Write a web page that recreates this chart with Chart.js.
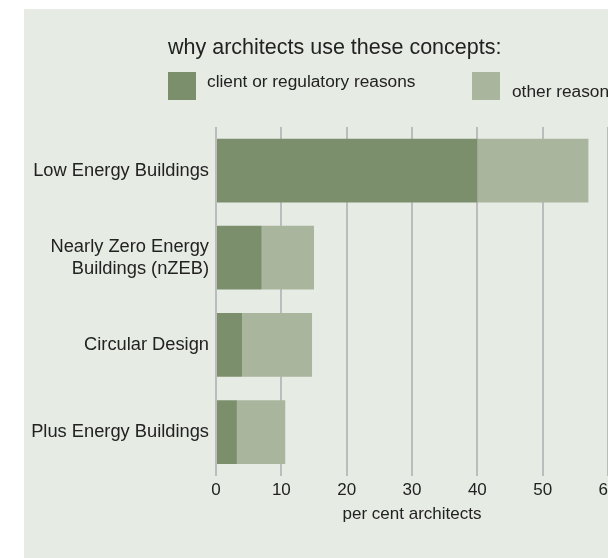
<!DOCTYPE html>
<html>
<head>
<meta charset="utf-8">
<script src="https://cdn.jsdelivr.net/npm/chart.js@4/dist/chart.umd.min.js"></script>
<style>
  html, body { margin: 0; padding: 0; overflow: hidden; background: #fff; }
  #wrap { position: absolute; left: 0; top: 0; width: 640px; height: 558px; }
</style>
</head>
<body>
<div id="wrap"><canvas id="chartId" width="640" height="558"></canvas></div>
<script>
// data
const concepts = ['Low Energy Buildings', ['Nearly Zero Energy', 'Buildings (nZEB)'], 'Circular Design', 'Plus Energy Buildings'];
const clientReasons = [40, 7, 4, 3.2];
const otherReasons = [17, 8, 10.7, 7.4];
const xTicks = [0, 10, 20, 30, 40, 50, 60];

const titleText = 'why architects use these concepts:';
const axisTitle = 'per cent architects';

const darkGreen = '#7b8f6d';
const lightGreen = '#aab59e';
const panel = '#e6ebe4';
const ink = '#222222';
const fontName = '"Liberation Sans", Arial, sans-serif';

// panel background, title and the legend squares
const decor = {
  id: 'decor',
  beforeDraw(chart) {
    const c = chart.ctx;
    c.save();
    c.fillStyle = panel;
    c.fillRect(24, 9, chart.width - 24, chart.height - 9);

    c.fillStyle = ink;
    c.textBaseline = 'middle';
    c.textAlign = 'left';
    c.font = '21.5px ' + fontName;
    c.fillText(titleText, 168, 48);

    const ds = chart.data.datasets;
    c.font = '17.3px ' + fontName;
    c.fillStyle = ds[0].backgroundColor;
    c.fillRect(168, 72, 28, 28);
    c.fillStyle = ink;
    c.fillText(ds[0].label, 207, 82);

    c.fillStyle = ds[1].backgroundColor;
    c.fillRect(472, 72, 28, 28);
    c.fillStyle = ink;
    c.fillText(ds[1].label, 512, 92);
    c.restore();
  }
};

const ctx = document.getElementById('chartId').getContext('2d');
const newChart = new Chart(ctx, {
  type: 'bar',
  data: {
    labels: concepts,
    datasets: [{
      label: 'client or regulatory reasons',
      backgroundColor: darkGreen,
      data: clientReasons
    }, {
      label: 'other reasons',
      backgroundColor: lightGreen,
      data: otherReasons
    }]
  },
  options: {
    responsive: false,
    animation: false,
    indexAxis: 'y',
    layout: { padding: { left: 0, right: 32, top: 127, bottom: 35 } },
    categoryPercentage: 0.8,
    barPercentage: 0.915,
    plugins: {
      legend: { display: false },
      title: { display: false },
      tooltip: { enabled: false }
    },
    scales: {
      x: {
        stacked: true,
        min: 0,
        max: 60,
        afterBuildTicks(axis) {
          axis.ticks = xTicks.map(v => ({ value: v }));
        },
        grid: { color: '#bbbcbe', lineWidth: 2, tickLength: 0, drawTicks: false, z: -1 },
        border: { display: false },
        ticks: { color: ink, padding: 5, font: { family: fontName, size: 17 } },
        title: {
          display: true,
          text: axisTitle,
          color: ink,
          padding: { top: 0, bottom: 0 },
          font: { family: fontName, size: 17, lineHeight: 1 }
        }
      },
      y: {
        stacked: true,
        afterFit(axis) { axis.width = 216; },
        grid: { display: false, drawTicks: false, tickLength: 0 },
        border: { display: false },
        ticks: { color: ink, padding: 7, font: { family: fontName, size: 18.3 } }
      }
    }
  },
  plugins: [decor]
});
</script>
</body>
</html>
